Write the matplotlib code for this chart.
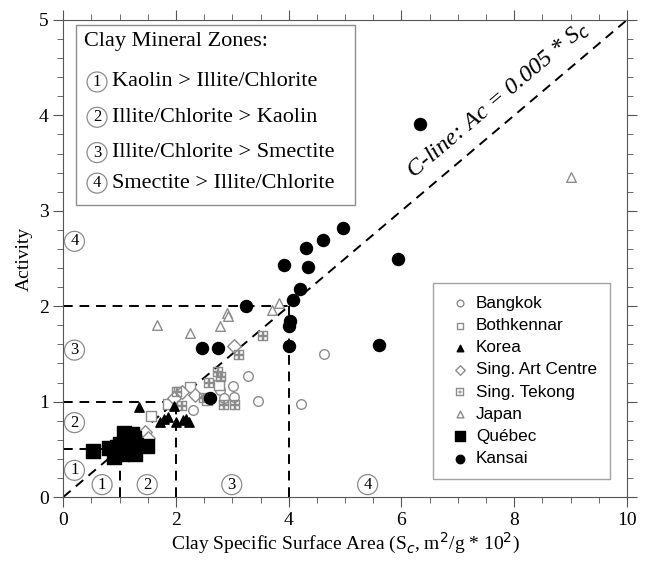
import numpy as np
import matplotlib.pyplot as plt
from matplotlib.patches import Rectangle
from matplotlib.ticker import MultipleLocator

# --- data ---
bangkok_x = [2.31, 2.78, 2.85, 3.02, 3.03, 3.27, 3.45, 4.21, 4.63]
bangkok_y = [0.91, 1.12, 1.04, 1.16, 1.05, 1.27, 1.01, 0.97, 1.50]

bothkennar_x = [1.55, 2.05, 2.25, 2.77, 1.85, 2.55]
bothkennar_y = [0.85, 1.10, 1.15, 1.17, 0.98, 1.02]

korea_x = [1.35, 1.71, 1.78, 1.85, 1.96, 2.00, 2.13, 2.18, 2.24]
korea_y = [0.94, 0.79, 0.82, 0.84, 0.95, 0.79, 0.81, 0.82, 0.79]

artcentre_x = [1.45, 1.50, 1.96, 2.10, 2.34, 3.03]
artcentre_y = [0.68, 0.62, 1.04, 1.10, 1.07, 1.58]

tekong_x = [2.02, 2.10, 2.49, 2.58, 2.75, 2.80, 2.85, 3.05, 3.11, 3.55]
tekong_y = [1.10, 0.95, 1.04, 1.19, 1.31, 1.26, 0.96, 0.96, 1.49, 1.69]

japan_x = [1.67, 2.25, 2.78, 2.90, 2.93, 3.70, 3.82, 9.00]
japan_y = [1.80, 1.72, 1.79, 1.93, 1.90, 1.96, 2.03, 3.35]

quebec_x = [0.52, 0.82, 0.90, 0.95, 1.01, 1.05, 1.08, 1.13, 1.18, 1.22, 1.25, 1.28, 1.30, 1.49]
quebec_y = [0.48, 0.51, 0.42, 0.52, 0.56, 0.45, 0.67, 0.51, 0.60, 0.66, 0.62, 0.45, 0.55, 0.53]

kansai_x = [2.46, 2.75, 2.61, 3.24, 3.91, 4.02, 4.01, 4.01, 4.08, 4.20, 4.30, 4.35, 4.60, 4.96, 5.93, 5.60, 6.33]
kansai_y = [1.56, 1.56, 1.04, 2.00, 2.43, 1.84, 1.79, 1.58, 2.07, 2.18, 2.61, 2.41, 2.69, 2.82, 2.49, 1.59, 3.91]

zone_items = ["Kaolin > Illite/Chlorite", "Illite/Chlorite > Kaolin",
              "Illite/Chlorite > Smectite", "Smectite > Illite/Chlorite"]
zone_bounds = [0.5, 1.0, 2.0]   # activity / surface-area zone corners
left_marks = [(0.2, 0.28), (0.2, 0.78), (0.2, 1.54), (0.2, 2.68)]
bottom_marks = [(0.69, 0.13), (1.49, 0.13), (2.99, 0.13), (5.4, 0.13)]

serif = "Liberation Serif"
sans = "Liberation Sans"
grey = "#8c8c8c"

fig = plt.figure(figsize=(6.45, 5.7), dpi=100)
ax = fig.add_axes([0.098, 0.128, 0.874, 0.837])

# C-line
cx = np.array([0, 10])
ax.plot(cx, 0.5 * cx, ls=(0, (5, 3.5)), color="black", lw=1.4, zorder=2)

# zone boundaries
for b in zone_bounds:
    ax.plot([0, 2 * b], [b, b], ls=(0, (5, 3.5)), color="black", lw=1.4, zorder=2)
    ax.plot([2 * b, 2 * b], [0, b], ls=(0, (5, 3.5)), color="black", lw=1.4, zorder=2)

ms_open = 48
ax.scatter(bangkok_x, bangkok_y, s=ms_open, marker="o", facecolor="white", edgecolor=grey, lw=1, label="Bangkok", zorder=3)
ax.scatter(bothkennar_x, bothkennar_y, s=ms_open, marker="s", facecolor="white", edgecolor=grey, lw=1, label="Bothkennar", zorder=3)
ax.scatter(korea_x, korea_y, s=45, marker="^", color="black", label="Korea", zorder=4)
ax.scatter(artcentre_x, artcentre_y, s=ms_open, marker="D", facecolor="white", edgecolor=grey, lw=1, label="Sing. Art Centre", zorder=3)
ax.scatter(tekong_x, tekong_y, s=60, marker="$\u229e$", color=grey, lw=0.3, label="Sing. Tekong", zorder=3)
ax.scatter(japan_x, japan_y, s=ms_open, marker="^", facecolor="white", edgecolor=grey, lw=1, label="Japan", zorder=3)
ax.scatter(quebec_x, quebec_y, s=95, marker="s", color="black", label="Québec", zorder=4)
ax.scatter(kansai_x, kansai_y, s=75, marker="o", color="black", label="Kansai", zorder=4)

leg = ax.legend(loc="lower right", bbox_to_anchor=(0.985, 0.02), prop={"family": sans, "size": 12.3},
                frameon=True, fancybox=False, edgecolor=grey, handletextpad=0.15, handlelength=1.6,
                labelspacing=0.42, borderpad=0.75, markerscale=0.7)
leg.get_frame().set_linewidth(1)

# clay mineral zone box
ax.add_patch(Rectangle((0.23, 3.06), 4.95, 1.89, facecolor="white", edgecolor=grey, lw=1, zorder=5))
ax.text(0.37, 4.77, "Clay Mineral Zones:", family=serif, fontsize=16, va="center", zorder=6)
for i, (item, y) in enumerate(zip(zone_items, [4.35, 3.98, 3.61, 3.29])):
    ax.text(0.6, y, str(i + 1), family=serif, fontsize=12, ha="center", va="center", zorder=6,
            bbox=dict(boxstyle="circle,pad=0.12", fc="white", ec=grey, lw=0.9))
    ax.text(0.87, y, item, family=serif, fontsize=16, va="center", zorder=6)

for i, (x, y) in enumerate(left_marks + bottom_marks):
    ax.text(x, y, str(i % 4 + 1), family=serif, fontsize=12, ha="center", va="center", zorder=6,
            bbox=dict(boxstyle="circle,pad=0.12", fc="white", ec=grey, lw=0.9))

# C-line label
ang = np.degrees(np.arctan(0.5 * (0.837 * 570 / 5) / (0.874 * 645 / 10)))
ax.text(7.72, 4.16, "C-line: Ac = 0.005 * S$_c$", family=serif, style="italic", fontsize=17.5,
        rotation=ang, rotation_mode="anchor", ha="center", va="center")

ax.set_xlim(0, 10)
ax.set_ylim(0, 5)
ax.xaxis.set_major_locator(MultipleLocator(2))
ax.xaxis.set_minor_locator(MultipleLocator(0.5))
ax.yaxis.set_major_locator(MultipleLocator(1))
ax.yaxis.set_minor_locator(MultipleLocator(0.2))
ax.tick_params(which="both", direction="out", top=True, right=True, color="#555555")
ax.tick_params(which="major", length=7, labelsize=14)
ax.tick_params(which="minor", length=4)
for lab in ax.get_xticklabels() + ax.get_yticklabels():
    lab.set_family(serif)
for sp in ax.spines.values():
    sp.set_color("#555555")

ax.set_xlabel("Clay Specific Surface Area (S$_c$, m$^2$/g * 10$^2$)", family=serif, fontsize=14, labelpad=2)
ax.set_ylabel("Activity", family=serif, fontsize=14, labelpad=4)

fig.savefig("out.png", dpi=100)
